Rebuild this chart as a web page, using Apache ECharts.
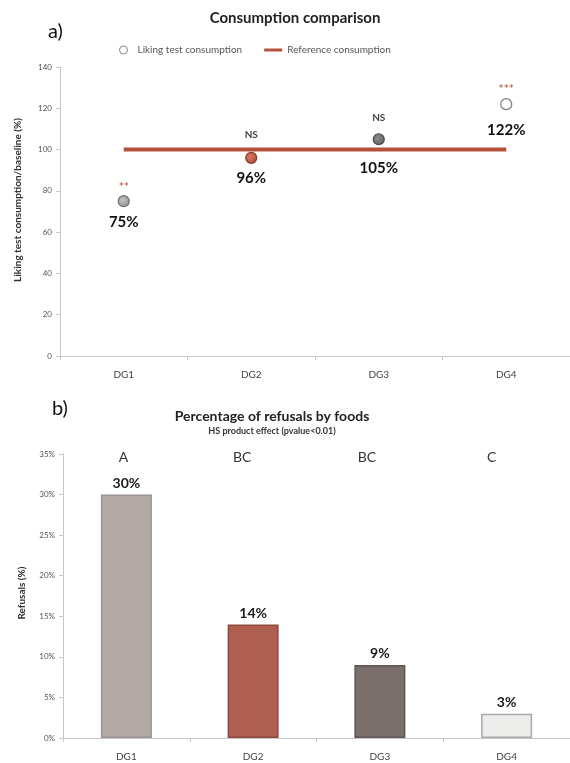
<!DOCTYPE html>
<html>
<head>
<meta charset="utf-8">
<script src="https://cdn.jsdelivr.net/npm/echarts@6/dist/echarts.min.js"></script>
<style>
  html, body { margin: 0; padding: 0; background: #fff; }
  #chart { width: 570px; height: 763px; }
</style>
</head>
<body>
<div id="chart"></div>
<script>
// Panel a) — consumption during the liking test relative to baseline
const groups = ['DG1', 'DG2', 'DG3', 'DG4'];
const likingConsumption = [75, 96, 105, 122];
const referenceConsumption = [100, 100, 100, 100];
const significance = ['**', 'NS', 'NS', '***'];
const consumptionTicks = [0, 20, 40, 60, 80, 100, 120, 140];

// Panel b) — share of refused foods per group
const refusals = [30, 14, 9, 3];
const refusalLetters = ['A', 'BC', 'BC', 'C'];
const refusalTicks = [0, 5, 10, 15, 20, 25, 30, 35];

const FONT = 'Lato, "Open Sans", sans-serif';

const pointColors = [
  { c: '#c4c4c4', e: '#8a8a8a', b: '#6f6f6f' },
  { c: '#d77a63', e: '#a94a37', b: '#8a3b2c' },
  { c: '#8a8a8a', e: '#5c5c5c', b: '#4a4a4a' },
  { c: '#ffffff', e: '#ffffff', b: '#7d7d7d' }
];
// vertical distance of the percentage label below each point
const pointLabelGap = [21, 20, 29, 26];
// vertical distance of the significance mark above each point
const sigGap = [14, 23, 21, 15];
const sigColors = ['#c0705f', '#444', '#444', '#c0705f'];

const barColors = [
  { fill: '#b3aaa7', edge: '#9c9390' },
  { fill: '#ae5f51', edge: '#8f4a3e' },
  { fill: '#7a6f6b', edge: '#5f5552' },
  { fill: '#ededeb', edge: '#a9a9a9' }
];
const letterShift = [-3, -11, -13, -15];

const chart = echarts.init(document.getElementById('chart'), null, { renderer: 'canvas' });

const consumptionPoints = likingConsumption.map((v, i) => ({
  value: v,
  itemStyle: {
    color: new echarts.graphic.RadialGradient(0.4, 0.4, 0.7, [
      { offset: 0, color: pointColors[i].c },
      { offset: 1, color: pointColors[i].e }
    ]),
    borderColor: pointColors[i].b,
    borderWidth: 1.2,
    opacity: 1
  },
  label: { offset: [0, pointLabelGap[i]] }
}));

const sigPoints = likingConsumption.map((v, i) => ({
  value: v,
  label: {
    formatter: significance[i],
    color: sigColors[i],
    fontSize: significance[i] === 'NS' ? 10 : 12,
    offset: [0, -sigGap[i]]
  }
}));

const refusalBars = refusals.map((v, i) => ({
  value: v,
  itemStyle: { color: barColors[i].fill, borderColor: barColors[i].edge, borderWidth: 1.5 }
}));

const letterPoints = refusalLetters.map((t, i) => ({
  value: 35,
  label: { formatter: t, offset: [letterShift[i], 3] }
}));

chart.setOption({
  animation: false,
  backgroundColor: '#fff',
  textStyle: { fontFamily: FONT },
  title: [
    {
      text: 'Consumption comparison',
      left: 290, top: 6, textAlign: 'center',
      textStyle: { fontFamily: FONT, fontSize: 15, fontWeight: 'bold', color: '#222' }
    },
    {
      text: 'Percentage of refusals by foods',
      subtext: 'HS product effect (pvalue<0.01)',
      left: 267, top: 404, textAlign: 'center', itemGap: 4,
      textStyle: { fontFamily: FONT, fontSize: 14, fontWeight: 'bold', color: '#222' },
      subtextStyle: { fontFamily: FONT, fontSize: 9, fontWeight: 'bold', color: '#333' }
    }
  ],
  legend: {
    top: 40, left: 114,
    itemWidth: 18, itemHeight: 8, itemGap: 22,
    textStyle: { fontFamily: FONT, fontSize: 10, color: '#555' },
    data: [
      { name: 'Liking test consumption', icon: 'circle',
        itemStyle: { color: '#fff', borderColor: '#888', borderWidth: 1 } },
      { name: 'Reference consumption', icon: 'path://M0,0h18v3h-18z' }
    ]
  },
  graphic: [
    { type: 'text', left: 48, top: 22, style: { text: 'a)', font: '20px ' + FONT, fill: '#111' } },
    { type: 'text', left: 52, top: 399, style: { text: 'b)', font: '20px ' + FONT, fill: '#111' } },
    { type: 'text', x: 18, y: 200, rotation: Math.PI / 2,
      style: { text: 'Liking test consumption/baseline (%)', font: 'bold 10px ' + FONT,
               fill: '#333', align: 'center', verticalAlign: 'middle' } },
    { type: 'text', x: 22, y: 593, rotation: Math.PI / 2,
      style: { text: 'Refusals (%)', font: 'bold 10px ' + FONT,
               fill: '#333', align: 'center', verticalAlign: 'middle' } }
  ],
  grid: [
    { left: 60, top: 67, width: 524, height: 289 },
    { left: 63, top: 454, width: 507, height: 284 }
  ],
  xAxis: [
    {
      gridIndex: 0, type: 'category', data: groups,
      axisLine: { lineStyle: { color: '#c8c8c8' } },
      axisTick: { show: true, length: 4, lineStyle: { color: '#c8c8c8' } },
      axisLabel: { fontFamily: FONT, fontSize: 10, color: '#444', margin: 14 }
    },
    {
      gridIndex: 1, type: 'category', data: groups,
      axisLine: { lineStyle: { color: '#c8c8c8' } },
      axisTick: { show: true, length: 4, lineStyle: { color: '#c8c8c8' } },
      axisLabel: { fontFamily: FONT, fontSize: 10, color: '#444', margin: 14 }
    }
  ],
  yAxis: [
    {
      gridIndex: 0, type: 'value',
      min: consumptionTicks[0], max: consumptionTicks[consumptionTicks.length - 1], interval: 20,
      splitLine: { show: false },
      axisLine: { show: true, lineStyle: { color: '#c8c8c8' } },
      axisTick: { show: true, length: 4, lineStyle: { color: '#c8c8c8' } },
      axisLabel: { fontFamily: FONT, fontSize: 8, color: '#555', margin: 8 }
    },
    {
      gridIndex: 1, type: 'value',
      min: refusalTicks[0], max: refusalTicks[refusalTicks.length - 1], interval: 5,
      splitLine: { show: false },
      axisLine: { show: true, lineStyle: { color: '#c8c8c8' } },
      axisTick: { show: true, length: 4, lineStyle: { color: '#c8c8c8' } },
      axisLabel: { fontFamily: FONT, fontSize: 8, color: '#555', margin: 8, formatter: '{value}%' }
    }
  ],
  series: [
    {
      name: 'Reference consumption', type: 'line',
      xAxisIndex: 0, yAxisIndex: 0,
      data: referenceConsumption,
      symbol: 'none', z: 2,
      itemStyle: { color: '#b4513e' },
      lineStyle: { color: '#b4513e', width: 4 }
    },
    {
      name: 'Liking test consumption', type: 'scatter',
      xAxisIndex: 0, yAxisIndex: 0,
      data: consumptionPoints,
      symbolSize: 11, z: 3,
      itemStyle: { color: '#fff', borderColor: '#888', opacity: 1 },
      label: {
        show: true, position: 'inside',
        formatter: '{c}%',
        fontFamily: FONT, fontSize: 15, fontWeight: 'bold', color: '#111'
      }
    },
    {
      name: 'significance', type: 'scatter',
      xAxisIndex: 0, yAxisIndex: 0,
      data: sigPoints,
      symbolSize: 0, silent: true, z: 4,
      itemStyle: { opacity: 1 },
      label: { show: true, position: 'inside', fontFamily: FONT, fontWeight: 'bold' }
    },
    {
      name: 'Refusals', type: 'bar',
      xAxisIndex: 1, yAxisIndex: 1,
      data: refusalBars,
      barWidth: 51,
      label: {
        show: true, position: 'top', distance: 4,
        formatter: '{c}%',
        fontFamily: FONT, fontSize: 14, fontWeight: 'bold', color: '#1a1a1a'
      }
    },
    {
      name: 'letters', type: 'scatter',
      xAxisIndex: 1, yAxisIndex: 1,
      data: letterPoints,
      symbolSize: 0, silent: true,
      itemStyle: { opacity: 1 },
      label: { show: true, position: 'inside', fontFamily: FONT, fontSize: 14, color: '#333' }
    }
  ]
});
</script>
</body>
</html>
